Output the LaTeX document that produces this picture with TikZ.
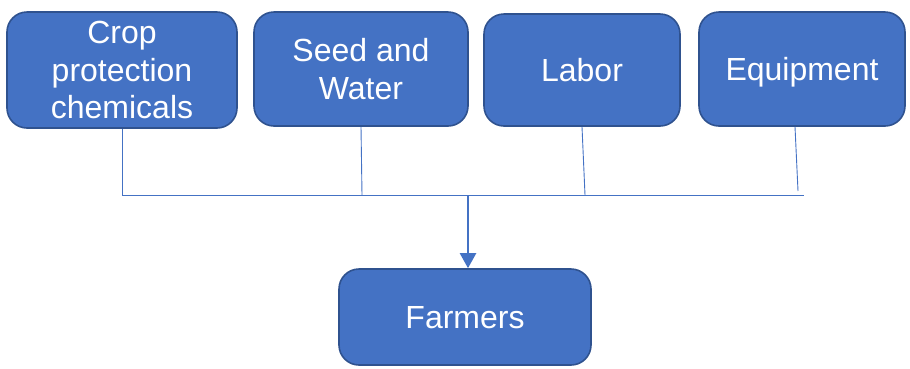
\documentclass[tikz,border=0pt]{standalone}
\usepackage{fontspec}
\setmainfont{Liberation Sans}
\usetikzlibrary{arrows.meta}
\definecolor{boxfill}{HTML}{4472C4}
\definecolor{boxedge}{HTML}{2F528F}
\definecolor{wire}{HTML}{4472C4}
\begin{document}
\begin{tikzpicture}[x=1pt,y=-1pt,
  inputbox/.style={draw=boxedge, line width=1.6pt, fill=boxfill, rounded corners=20pt,
    text=white, align=center, inner sep=0pt,
    font=\fontsize{32}{37.5}\selectfont},
  oneline/.style={text height=23pt, text depth=0pt},
  feed/.style={draw=wire, line width=0.9pt},
  flow/.style={draw=wire, line width=2.2pt, -{Triangle[length=15pt,width=16pt]}}]
\useasboundingbox (0,0) rectangle (910,368);

% supply boxes
\node[inputbox, minimum width=230pt, minimum height=116pt] (crop) at (122,70)
  {Crop\\protection\\chemicals};
\node[inputbox, minimum width=214pt, minimum height=114pt] (seed) at (361,69)
  {Seed and\\Water};
\node[inputbox, oneline, minimum width=196pt, minimum height=112pt] (labor) at (582,70)
  {Labor};
\node[inputbox, oneline, minimum width=206pt, minimum height=114pt] (equip) at (802,69)
  {Equipment};

% receiving box
\node[inputbox, oneline, minimum width=252pt, minimum height=96pt] (farm) at (465,317)
  {Farmers};

% collector bus
\coordinate (busL) at (122,195);
\coordinate (busR) at (804,195);
\coordinate (seedJ) at (362,195);
\coordinate (laborJ) at (585,195);
\coordinate (equipJ) at (798,191);
\coordinate (mid) at (468,195);

\draw[feed] (busL) -- (busR);
\draw[feed] (crop.south) -- (busL);
\draw[feed] (seed.south) -- (seedJ);
\draw[feed] (labor.south) -- (laborJ);
\draw[feed] (equip.south -| 795,0) -- (equipJ);

% arrow to farmers
\draw[flow] (mid) -- (mid |- farm.north);
\end{tikzpicture}
\end{document}
